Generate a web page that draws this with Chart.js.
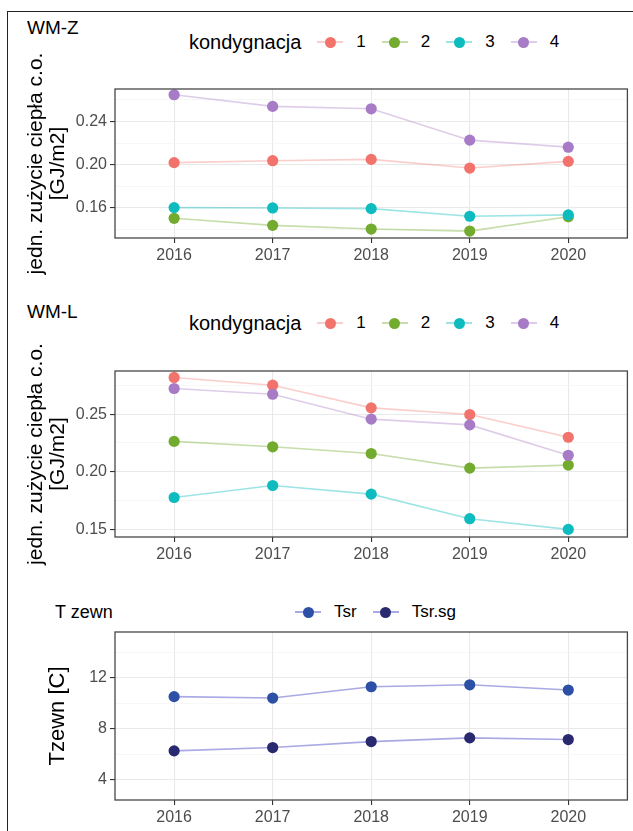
<!DOCTYPE html>
<html>
<head>
<meta charset="utf-8">
<script src="https://cdn.jsdelivr.net/npm/chart.js@4.4.0/dist/chart.umd.min.js"></script>
<style>
    body {
        margin: 0;
        background: #fff;
        width: 633px;
        height: 831px;
        overflow: hidden;
        position: relative;
        font-family: "Liberation Sans", Arial, sans-serif;
        color: #000;
    }
    .frame {
        position: absolute;
        left: 7px;
        top: 11px;
        width: 660px;
        height: 840px;
        border-left: 1.5px solid #222;
        border-top: 1.5px solid #222;
    }
    canvas { position: absolute; left: 0; }
    .ptitle { position: absolute; font-size: 19px; line-height: 20px; white-space: nowrap; }
    .legend { position: absolute; display: flex; align-items: center; height: 24px; white-space: nowrap; }
    .lg-title { font-size: 20px; margin-right: 16px; }
    .lg-key { position: relative; width: 26px; height: 12px; display: inline-block; }
    .lg-line { position: absolute; left: 0; right: 0; top: 5px; height: 1.6px; }
    .lg-dot { position: absolute; left: 7.5px; top: 0.5px; width: 11px; height: 11px; border-radius: 50%; }
    .lg-label { font-size: 17px; margin-left: 13px; margin-right: 16px; }
</style>
</head>
<body>
<div class="frame"></div>

<div class="ptitle" style="left:27px; top:18px;">WM-Z</div>
<div class="legend" id="legendWmz" style="left:189px; top:30px;"></div>
<canvas id="chartWmz" width="633" height="276" style="top:14px;"></canvas>

<div class="ptitle" style="left:27px; top:302px;">WM-L</div>
<div class="legend" id="legendWml" style="left:189px; top:311px;"></div>
<canvas id="chartWml" width="633" height="290" style="top:290px;"></canvas>

<div class="ptitle" style="left:55px; top:602px; font-size:18px;">T zewn</div>
<div class="legend" id="legendTemp" style="left:295px; top:600px;"></div>
<canvas id="chartTemp" width="633" height="251" style="top:580px;"></canvas>

<script>
// --- data ---
const years = [2016, 2017, 2018, 2019, 2020];
const floors = ['1', '2', '3', '4'];
const floorColors = ['#F1736B', '#72AB2E', '#0EBBBF', '#A77BC6'];
const floorLineColors = ['rgba(241,115,107,0.35)', 'rgba(114,171,46,0.4)', 'rgba(14,187,191,0.4)', 'rgba(167,123,198,0.38)'];

// WM-Z
const wmzFloor1 = [0.2019, 0.2037, 0.2049, 0.1969, 0.2031];
const wmzFloor2 = [0.1504, 0.1439, 0.1405, 0.1386, 0.1519];
const wmzFloor3 = [0.1603, 0.1600, 0.1594, 0.1523, 0.1536];
const wmzFloor4 = [0.2647, 0.2539, 0.2517, 0.2227, 0.2162];
const wmzMajorTicks = [0.16, 0.20, 0.24];
const wmzMinorTicks = [0.14, 0.18, 0.22, 0.26];

// WM-L
const wmlFloor1 = [0.2819, 0.2752, 0.2555, 0.2497, 0.2300];
const wmlFloor2 = [0.2264, 0.2217, 0.2159, 0.2032, 0.2058];
const wmlFloor3 = [0.1777, 0.1881, 0.1806, 0.1593, 0.1500];
const wmlFloor4 = [0.2723, 0.2673, 0.2457, 0.2407, 0.2143];
const wmlMajorTicks = [0.15, 0.20, 0.25];
const wmlMinorTicks = [0.175, 0.225, 0.275];

// T zewn
const tempSeries = ['Tsr', 'Tsr.sg'];
const tempColors = ['#2D4FA6', '#28296F'];
const tempLineColors = ['rgba(112,112,210,0.6)', 'rgba(112,112,210,0.6)'];
const tsr = [10.52, 10.41, 11.30, 11.45, 11.04];
const tsrSg = [6.26, 6.52, 6.99, 7.28, 7.15];
const tempMajorTicks = [4, 8, 12];
const tempMinorTicks = [6, 10, 14];

const fontFamily = '"Liberation Sans", Arial, sans-serif';

// draws the dark box round the plot area, like ggplot's panel.border
const panelBorder = {
    id: 'panelBorder',
    afterDraw(chart) {
        const { ctx, chartArea: a } = chart;
        ctx.save();
        ctx.strokeStyle = '#474747';
        ctx.lineWidth = 1.3;
        ctx.strokeRect(a.left, a.top, a.right - a.left, a.bottom - a.top);
        ctx.restore();
    }
};

function buildLegend(id, title, labels, colors, lineColors) {
    const el = document.getElementById(id);
    if (title) {
        const t = document.createElement('span');
        t.className = 'lg-title';
        t.textContent = title;
        el.appendChild(t);
    }
    labels.forEach((lab, i) => {
        const key = document.createElement('span');
        key.className = 'lg-key';
        key.innerHTML = `<i class="lg-line" style="background:${lineColors[i]}"></i>` +
                        `<i class="lg-dot" style="background:${colors[i]}"></i>`;
        const txt = document.createElement('span');
        txt.className = 'lg-label';
        txt.textContent = lab;
        el.append(key, txt);
    });
}

function buildPanel(canvasId, cfg) {
    const ctx = document.getElementById(canvasId).getContext('2d');
    const allTicks = cfg.major.concat(cfg.minor).sort((a, b) => a - b);
    const isMajor = v => cfg.major.includes(v);

    return new Chart(ctx, {
        type: 'line',
        data: {
            datasets: cfg.values.map((vals, i) => ({
                label: cfg.labels[i],
                data: years.map((yr, j) => ({ x: yr, y: vals[j] })),
                borderColor: cfg.lineColors[i],
                backgroundColor: cfg.colors[i],
                pointBackgroundColor: cfg.colors[i],
                pointBorderColor: cfg.colors[i],
                pointBorderWidth: 0,
                pointRadius: 5.6,
                borderWidth: 1.6,
                tension: 0,
                order: cfg.values.length - i
            }))
        },
        options: {
            responsive: false,
            animation: false,
            layout: { padding: { left: 0, right: cfg.padRight, top: cfg.padTop, bottom: cfg.padBottom } },
            plugins: {
                legend: { display: false },
                tooltip: { enabled: false }
            },
            scales: {
                x: {
                    type: 'linear',
                    min: 2015.4,
                    max: 2020.6,
                    bounds: 'data',
                    afterBuildTicks: scale => { scale.ticks = years.map(v => ({ value: v })); },
                    afterFit: scale => { scale.height = 30; },
                    border: { display: false },
                    grid: {
                        color: '#e9e9e9',
                        lineWidth: 1.1,
                        tickLength: 5,
                        tickColor: '#333'
                    },
                    ticks: {
                        autoSkip: false,
                        maxRotation: 0,
                        padding: 3,
                        color: '#4d4d4d',
                        font: { family: fontFamily, size: 16 },
                        callback: v => String(v)
                    }
                },
                y: {
                    type: 'linear',
                    min: cfg.min,
                    max: cfg.max,
                    bounds: 'data',
                    afterBuildTicks: scale => { scale.ticks = allTicks.map(v => ({ value: v })); },
                    afterFit: scale => { scale.width = 115; },
                    border: { display: false },
                    grid: {
                        color: c => isMajor(c.tick.value) ? '#e9e9e9' : '#f4f4f4',
                        lineWidth: c => isMajor(c.tick.value) ? 1.1 : 0.7,
                        tickLength: 5,
                        tickColor: c => isMajor(c.tick.value) ? '#333' : 'rgba(0,0,0,0)'
                    },
                    ticks: {
                        autoSkip: false,
                        padding: 3,
                        color: '#4d4d4d',
                        font: { family: fontFamily, size: 16 },
                        callback: v => isMajor(v) ? v.toFixed(cfg.decimals) : ''
                    },
                    title: {
                        display: true,
                        text: cfg.yTitle,
                        color: '#000',
                        font: { family: fontFamily, size: cfg.titleSize, lineHeight: 1.05 },
                        padding: { top: cfg.titlePad, bottom: 0 }
                    }
                }
            }
        },
        plugins: [panelBorder]
    });
}

buildLegend('legendWmz', 'kondygnacja', floors, floorColors, floorLineColors);
buildLegend('legendWml', 'kondygnacja', floors, floorColors, floorLineColors);
buildLegend('legendTemp', null, tempSeries, tempColors, tempLineColors);

buildPanel('chartWmz', {
    labels: floors, colors: floorColors, lineColors: floorLineColors,
    values: [wmzFloor1, wmzFloor2, wmzFloor3, wmzFloor4],
    major: wmzMajorTicks, minor: wmzMinorTicks,
    min: 0.1322, max: 0.2700, decimals: 2,
    yTitle: ['jedn. zużycie ciepła c.o.', '[GJ/m2]'], titlePad: 25, titleSize: 21,
    padTop: 75, padBottom: 22, padRight: 3
});

buildPanel('chartWml', {
    labels: floors, colors: floorColors, lineColors: floorLineColors,
    values: [wmlFloor1, wmlFloor2, wmlFloor3, wmlFloor4],
    major: wmlMajorTicks, minor: wmlMinorTicks,
    min: 0.1434, max: 0.2875, decimals: 2,
    yTitle: ['jedn. zużycie ciepła c.o.', '[GJ/m2]'], titlePad: 25, titleSize: 21,
    padTop: 81, padBottom: 13, padRight: 3
});

buildPanel('chartTemp', {
    labels: tempSeries, colors: tempColors, lineColors: tempLineColors,
    values: [tsr, tsrSg],
    major: tempMajorTicks, minor: tempMinorTicks,
    min: 2.4, max: 15.6, decimals: 0,
    yTitle: 'Tzewn [C]', titlePad: 46, titleSize: 22,
    padTop: 52, padBottom: 1, padRight: 4
});
</script>
</body>
</html>
